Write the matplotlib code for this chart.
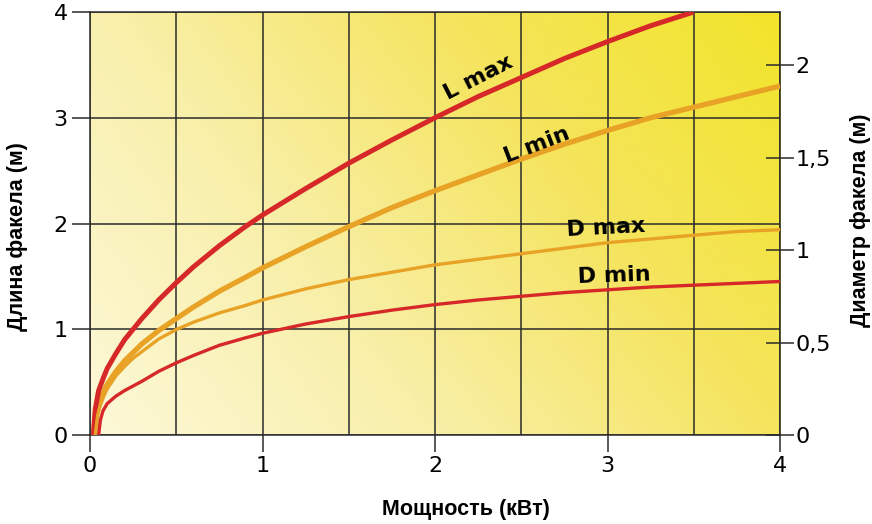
"""
Flame length / diameter versus burner power, on a yellow gradient grid.
"""
import numpy as np
import matplotlib
matplotlib.use("Agg")
import matplotlib.pyplot as plt
from matplotlib.colors import LinearSegmentedColormap

# --- data ---
# Flame length, metres (left axis)
lmax_x = [0.02, 0.03, 0.05, 0.075, 0.1, 0.15, 0.2, 0.25, 0.3, 0.4, 0.5, 0.6, 0.75,
          0.9, 1.0, 1.25, 1.5, 1.75, 2.0, 2.25, 2.5, 2.75, 3.0, 3.25, 3.5]
lmax_y = [0.0, 0.24, 0.42, 0.53, 0.63, 0.77, 0.90, 1.00, 1.10, 1.28, 1.44, 1.59, 1.79,
          1.97, 2.08, 2.33, 2.57, 2.79, 3.00, 3.20, 3.38, 3.56, 3.72, 3.87, 4.00]

lmin_x = [0.02, 0.03, 0.05, 0.075, 0.1, 0.15, 0.2, 0.25, 0.3, 0.4, 0.5, 0.6, 0.75,
          0.9, 1.0, 1.25, 1.5, 1.75, 2.0, 2.25, 2.5, 2.75, 3.0, 3.25, 3.5, 3.75, 4.0]
lmin_y = [0.0, 0.17, 0.30, 0.40, 0.48, 0.60, 0.70, 0.78, 0.86, 0.99, 1.10, 1.21, 1.36,
          1.49, 1.58, 1.78, 1.97, 2.15, 2.31, 2.46, 2.61, 2.75, 2.88, 3.00, 3.10, 3.20, 3.30]

# Flame diameter, metres (right axis)
dmax_x = [0.03, 0.045, 0.06, 0.08, 0.1, 0.15, 0.2, 0.25, 0.3, 0.4, 0.5, 0.6, 0.75,
          0.9, 1.0, 1.25, 1.5, 1.75, 2.0, 2.25, 2.5, 2.75, 3.0, 3.25, 3.5, 3.75, 4.0]
dmax_y = [0.0, 0.11, 0.16, 0.21, 0.25, 0.32, 0.37, 0.415, 0.45, 0.52, 0.57, 0.61, 0.66,
          0.70, 0.73, 0.79, 0.84, 0.88, 0.92, 0.95, 0.98, 1.01, 1.04, 1.06, 1.08, 1.10, 1.11]

dmin_x = [0.05, 0.06, 0.075, 0.1, 0.15, 0.2, 0.25, 0.3, 0.4, 0.5, 0.6, 0.75,
          0.9, 1.0, 1.25, 1.5, 1.75, 2.0, 2.25, 2.5, 2.75, 3.0, 3.25, 3.5, 3.75, 4.0]
dmin_y = [0.0, 0.08, 0.13, 0.17, 0.21, 0.24, 0.265, 0.29, 0.345, 0.39, 0.43, 0.485,
          0.525, 0.55, 0.60, 0.64, 0.675, 0.705, 0.73, 0.75, 0.77, 0.785, 0.80, 0.81, 0.82, 0.83]

x_ticks = [0, 1, 2, 3, 4]
left_ticks = [0, 1, 2, 3, 4]
right_ticks = [0, 0.5, 1, 1.5, 2]
right_labels = ["0", "0,5", "1", "1,5", "2"]

RED = "#d62828"
ORANGE = "#e8a326"
GRID = "#2b2b2b"
TICK_FONT = ["Liberation Sans Narrow", "DejaVu Sans"]

fig = plt.figure(figsize=(8.72, 5.24), dpi=100)
ax = fig.add_axes([90 / 872, 1 - 435 / 524, 690 / 872, 423 / 524])

# Background: pale cream bottom-left to saturated yellow top-right
cmap = LinearSegmentedColormap.from_list(
    "flame_bg", ["#fdf8d8", "#f8efa8", "#f5e45c", "#f2e42a"])
gx, gy = np.meshgrid(np.linspace(0, 1, 300), np.linspace(0, 1, 300))
shade = np.clip(0.66 * gx + 0.30 * gy + 0.04 * gx * gy, 0, 1)
ax.imshow(shade, cmap=cmap, vmin=0, vmax=1, origin="lower",
          extent=[0, 4, 0, 4], aspect="auto", zorder=0)

ax.set_xlim(0, 4)
ax.set_ylim(0, 4)
ax.set_xticks(x_ticks)
ax.set_xticks(np.arange(0, 4.01, 0.5), minor=True)
ax.set_yticks(left_ticks)
ax.grid(True, which="both", axis="x", color=GRID, linewidth=1.1, zorder=1)
ax.grid(True, which="major", axis="y", color=GRID, linewidth=1.1, zorder=1)
ax.tick_params(axis="both", which="minor", length=0)
ax.tick_params(axis="x", which="major", direction="out", length=12, width=1.1,
               color=GRID, pad=3, labelsize=16)
ax.tick_params(axis="y", which="major", direction="out", length=13, width=1.1,
               color=GRID, pad=3, labelsize=16)
for lab in ax.get_xticklabels() + ax.get_yticklabels():
    lab.set_family(TICK_FONT)
for sp in ax.spines.values():
    sp.set_color(GRID)
    sp.set_linewidth(1.1)

line_kw = dict(solid_capstyle="butt", solid_joinstyle="round")
ax.plot(lmin_x, lmin_y, color=ORANGE, linewidth=3.8, zorder=3, **line_kw)
ax.plot(lmax_x, lmax_y, color=RED, linewidth=3.6, zorder=4, **line_kw)

ax2 = ax.twinx()
ax2.set_ylim(0, 2.287)
ax2.set_yticks(right_ticks)
ax2.set_yticklabels(right_labels)
ax2.tick_params(axis="y", direction="inout", length=20, width=1.1, color=GRID,
                pad=1, labelsize=16)
for lab in ax2.get_yticklabels():
    lab.set_family(TICK_FONT)
for sp in ax2.spines.values():
    sp.set_visible(False)
ax2.plot(dmax_x, dmax_y, color=ORANGE, linewidth=2.4, zorder=3, **line_kw)
ax2.plot(dmin_x, dmin_y, color=RED, linewidth=2.4, zorder=3, **line_kw)

label_kw = dict(fontsize=16, fontweight="heavy", color="black",
                ha="center", va="center", family="DejaVu Sans")
ax.text(2.25, 3.38, "L max", rotation=27, **label_kw)
ax.text(2.59, 2.74, "L min", rotation=21, **label_kw)
ax.text(2.99, 1.96, "D max", rotation=3, **label_kw)
ax.text(3.04, 1.51, "D min", rotation=2, **label_kw)

axis_kw = dict(fontsize=15.5, fontweight="bold", family=["Liberation Sans", "DejaVu Sans"],
               ha="center", va="center")
fig.text(18 / 872, 1 - 237 / 524, "Длина факела (м)", rotation=90, **axis_kw)
fig.text(466 / 872, 1 - 510 / 524, "Мощность (кВт)", **axis_kw)
fig.text(860 / 872, 1 - 220 / 524, "Диаметр факела (м)", rotation=90, **axis_kw)

fig.savefig("out.png", dpi=100)
